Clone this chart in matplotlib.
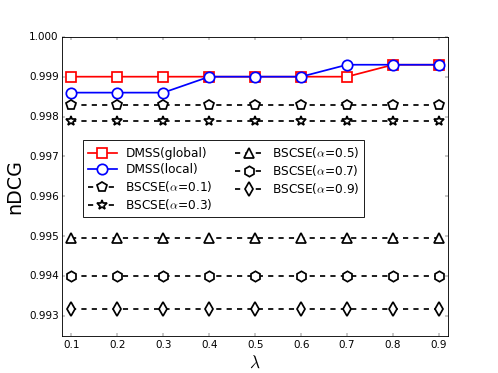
import matplotlib
matplotlib.use('Agg')
import matplotlib.pyplot as plt

# datos
lam = [0.1, 0.2, 0.3, 0.4, 0.5, 0.6, 0.7, 0.8, 0.9]
dmss_global = [0.999, 0.999, 0.999, 0.999, 0.999, 0.999, 0.999, 0.9993, 0.9993]
dmss_local = [0.9986, 0.9986, 0.9986, 0.999, 0.999, 0.999, 0.9993, 0.9993, 0.9993]
bscse_01 = [0.9983] * 9
bscse_03 = [0.9979] * 9
bscse_05 = [0.99495] * 9
bscse_07 = [0.9940] * 9
bscse_09 = [0.99318] * 9

plt.style.use('classic')
fig = plt.figure(figsize=(8, 6), dpi=62.25)
ax = fig.add_subplot(111)
fig.subplots_adjust(left=0.125, right=0.9, bottom=0.1, top=0.9)

ms = 12
mew = 2
ax.plot(lam, dmss_global, 'r-', marker='s', mfc='w', mec='r', ms=ms, mew=mew, lw=2, label='DMSS(global)')
ax.plot(lam, dmss_local, 'b-', marker='o', mfc='w', mec='b', ms=ms, mew=mew, lw=2, label='DMSS(local)')
ax.plot(lam, bscse_01, 'k--', marker='p', mfc='w', ms=ms, mew=mew, lw=2, label=r'BSCSE($\alpha$=0.1)')
ax.plot(lam, bscse_03, 'k--', marker='*', mfc='w', ms=ms, mew=mew, lw=2, label=r'BSCSE($\alpha$=0.3)')
ax.plot(lam, bscse_05, 'k--', marker='^', mfc='w', ms=ms, mew=mew, lw=2, label=r'BSCSE($\alpha$=0.5)')
ax.plot(lam, bscse_07, 'k--', marker='h', mfc='w', ms=ms, mew=mew, lw=2, label=r'BSCSE($\alpha$=0.7)')
ax.plot(lam, bscse_09, 'k--', marker='d', mfc='w', ms=ms, mew=mew, lw=2, label=r'BSCSE($\alpha$=0.9)')

ax.set_xlim(0.08, 0.92)
ax.set_ylim(0.9925, 1.0)
ax.set_xticks(lam)
ax.set_yticks([0.993, 0.994, 0.995, 0.996, 0.997, 0.998, 0.999, 1.000])
ax.set_yticklabels(['0.993', '0.994', '0.995', '0.996', '0.997', '0.998', '0.999', '1.000'])
ax.set_xlabel(r'$\lambda$', fontsize=20)
ax.set_ylabel('nDCG', fontsize=22)

ax.legend(loc='upper left', bbox_to_anchor=(0.054, 0.655), borderaxespad=0,
          ncol=2, numpoints=1, handlelength=2.4, handletextpad=0.7, fontsize=14,
          labelspacing=0.25, columnspacing=1.8, frameon=True)

plt.savefig('out.png', dpi=62.25)
